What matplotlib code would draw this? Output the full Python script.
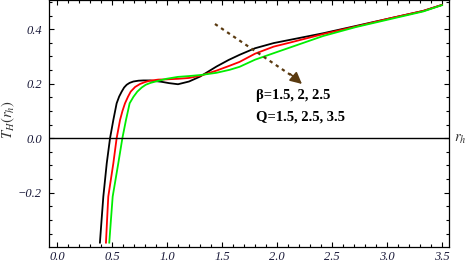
import numpy as np
import matplotlib
matplotlib.use('Agg')
import matplotlib.pyplot as plt
from matplotlib.ticker import MultipleLocator

# values
bx = [0.39, 0.405, 0.421, 0.452, 0.482, 0.512, 0.542, 0.565, 0.588, 0.61, 0.633, 0.66, 0.694, 0.74,
      0.785, 0.845, 0.95, 1.02, 1.10, 1.2, 1.3, 1.45, 1.56, 1.66, 1.8, 1.97, 2.12, 2.42, 2.72,
      3.03, 3.33, 3.5]
by = [-0.383, -0.3, -0.214, -0.092, 0.0, 0.067, 0.128, 0.153, 0.171, 0.186, 0.196, 0.203, 0.208, 0.211,
      0.212, 0.212, 0.207, 0.202, 0.198, 0.208, 0.226, 0.263, 0.287, 0.306, 0.33, 0.349, 0.361, 0.385, 0.412,
      0.44, 0.467, 0.489]

rx = [0.445, 0.455, 0.466, 0.512, 0.542, 0.573, 0.595, 0.618, 0.645, 0.67, 0.71, 0.755, 0.80, 0.845,
      0.92, 1.0, 1.1, 1.2, 1.31, 1.45, 1.57, 1.66, 1.8, 1.97, 2.12, 2.42, 2.72, 3.03, 3.33, 3.5]
ry = [-0.383, -0.3, -0.214, -0.092, 0.0, 0.067, 0.1, 0.128, 0.152, 0.171, 0.188, 0.199, 0.206, 0.211,
      0.215, 0.216, 0.218, 0.221, 0.23, 0.248, 0.266, 0.28, 0.31, 0.336, 0.351, 0.382, 0.41, 0.44, 0.467, 0.489]

gx = [0.475, 0.49, 0.506, 0.557, 0.594, 0.627, 0.645, 0.66, 0.695, 0.73, 0.77, 0.806, 0.85, 0.897,
      0.995, 1.1, 1.2, 1.31, 1.45, 1.57, 1.66, 1.8, 1.97, 2.12, 2.42, 2.72, 3.03, 3.33, 3.5]
gy = [-0.383, -0.3, -0.214, -0.092, 0.0, 0.067, 0.1, 0.128, 0.152, 0.171, 0.186, 0.196, 0.203, 0.208,
      0.218, 0.225, 0.228, 0.232, 0.24, 0.251, 0.262, 0.288, 0.312, 0.333, 0.375, 0.408, 0.437, 0.465, 0.488]

xticks = [0.0, 0.5, 1.0, 1.5, 2.0, 2.5, 3.0, 3.5]
yticks = [-0.2, 0.0, 0.2, 0.4]

plt.rcParams['mathtext.fontset'] = 'stix'

fig = plt.figure(figsize=(4.69, 2.66), dpi=100)
ax = fig.add_axes([49/469, 19/266, 400/469, 247/266])

ax.plot(bx, by, color='black', lw=1.3)
ax.plot(rx, ry, color='#ff0000', lw=1.3)
ax.plot(gx, gy, color='#00ee00', lw=1.3)
ax.axhline(0, color='black', lw=1.0)

ax.set_xlim(-0.073, 3.564)
ax.set_ylim(-0.399, 0.507)

ax.set_xticks(xticks)
ax.set_xticklabels(['%.1f' % v for v in xticks])
ax.set_yticks(yticks)
ax.set_yticklabels(['\u22120.2', '0.0', '0.2', '0.4'])
ax.xaxis.set_minor_locator(MultipleLocator(0.1))
ax.yaxis.set_minor_locator(MultipleLocator(0.05))
ax.tick_params(which='both', direction='in', top=True, right=True, width=0.8)
ax.tick_params(which='major', length=3.5)
ax.tick_params(which='minor', length=2.0)
ax.tick_params(axis='y', pad=5)
ax.tick_params(axis='x', pad=3)
for lab in ax.get_xticklabels() + ax.get_yticklabels():
    lab.set_fontfamily('Liberation Serif')
    lab.set_fontstyle('italic')
    lab.set_fontsize(9)
    lab.set_color('#1a1a3a')
for s in ax.spines.values():
    s.set_linewidth(0.9)

fig.text(8/469, 1 - 120/266, r'$T_H(r_h)$', rotation=90, ha='center', va='center',
         fontsize=10.5, color='#333333')
ax.text(1.012, 0.0, r'$r_h$', transform=ax.get_yaxis_transform(), ha='left', va='center',
        fontsize=10.5, color='#333333')

# dashed arrow
brown = '#5a3a10'
ax.plot([1.436, 2.15], [0.419, 0.225], color=brown, lw=1.6, ls=(0, (1.5, 1.8)))
ax.annotate('', xy=(2.227, 0.199), xytext=(2.12, 0.236),
            arrowprops=dict(arrowstyle='-|>,head_length=0.7,head_width=0.35',
                            color=brown, lw=1.2, shrinkA=0, shrinkB=0))

ax.text(1.81, 0.158, '\u03b2=1.5, 2, 2.5', fontfamily='Liberation Serif', fontweight='bold',
        fontsize=10.5, ha='left', va='center')
ax.text(1.81, 0.078, 'Q=1.5, 2.5, 3.5', fontfamily='Liberation Serif', fontweight='bold',
        fontsize=10.5, ha='left', va='center')

fig.savefig('out.png', dpi=100)
